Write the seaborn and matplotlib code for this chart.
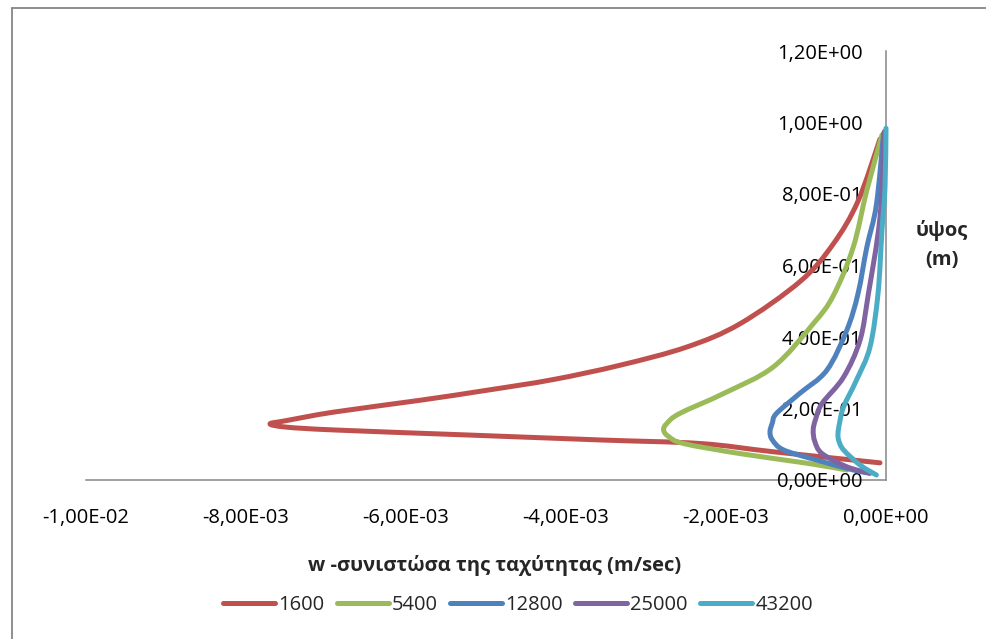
import numpy as np
import pandas as pd
import matplotlib
matplotlib.use("Agg")
import matplotlib.pyplot as plt
from matplotlib.lines import Line2D
from matplotlib.path import Path
from matplotlib.patches import PathPatch
from matplotlib.ticker import FuncFormatter
import seaborn as sns

# Vertical velocity profiles w(z) for different times (s)
series_names = ["1600", "5400", "12800", "25000", "43200"]

w_1600 = [-0.000075, -0.00141, -0.00232, -0.00357, -0.00524, -0.0069, -0.0075, -0.0077,
          -0.0075, -0.0069, -0.005825, -0.00499, -0.00416, -0.003325, -0.00249, -0.001825,
          -0.00107, -0.00066, -0.00035, -0.000075]
z_1600 = [0.048, 0.079, 0.102, 0.112, 0.126, 0.140, 0.148, 0.157,
          0.166, 0.190, 0.223, 0.251, 0.281, 0.321, 0.372, 0.437,
          0.556, 0.660, 0.780, 0.954]

w_5400 = [-0.00049, -0.00099, -0.00183, -0.00253, -0.00272, -0.00278, -0.00274, -0.00258,
          -0.00203, -0.00141, -0.00091, -0.00066, -0.00041, -0.00024, -0.00005]
z_5400 = [0.028, 0.047, 0.074, 0.102, 0.122, 0.140, 0.158, 0.186,
          0.242, 0.316, 0.437, 0.515, 0.651, 0.810, 0.965]

w_12800 = [-0.0002, -0.00041, -0.00087, -0.00128, -0.00142, -0.00145, -0.00142, -0.00137,
           -0.00108, -0.00074, -0.00049, -0.00035, -0.00024, -0.00012, -0.00003]
z_12800 = [0.019, 0.028, 0.056, 0.084, 0.112, 0.135, 0.160, 0.186,
           0.242, 0.307, 0.419, 0.521, 0.651, 0.770, 0.970]

w_25000 = [-0.0002, -0.00049, -0.0008, -0.00089, -0.00091, -0.00088, -0.0008, -0.00053,
           -0.000325, -0.00022, -0.000075, -0.00002]
z_25000 = [0.019, 0.037, 0.074, 0.108, 0.140, 0.170, 0.214, 0.288,
           0.391, 0.521, 0.735, 0.975]

w_43200 = [-0.00012, -0.000325, -0.00053, -0.00059, -0.00060, -0.00058, -0.00053, -0.00037,
           -0.0002, -0.0001, -0.00005, -0.0000125, 0.0]
z_43200 = [0.014, 0.042, 0.084, 0.110, 0.130, 0.160, 0.205, 0.279,
           0.372, 0.521, 0.700, 0.819, 0.984]

colors = ["#C0504D", "#9BBB59", "#4F81BD", "#8064A2", "#4BACC6"]

x_ticks = [-0.010, -0.008, -0.006, -0.004, -0.002, 0.0]
y_ticks = [0.0, 0.2, 0.4, 0.6, 0.8, 1.0, 1.2]

x_title = "w -συνιστώσα της ταχύτητας (m/sec)"
y_title = "ύψος\n(m)"

frames = []
for name, w, z in zip(series_names,
                      [w_1600, w_5400, w_12800, w_25000, w_43200],
                      [z_1600, z_5400, z_12800, z_25000, z_43200]):
    frames.append(pd.DataFrame({"w": w, "z": z, "t": name}))
df = pd.concat(frames, ignore_index=True)

sns.set_style("white")
plt.rcParams["font.family"] = ["Open Sans", "Noto Sans", "DejaVu Sans"]

W, H = 986, 639
LW = 3.6
fig = plt.figure(figsize=(W / 100, H / 100), dpi=100)
ax = fig.add_axes([86 / W, 1 - 480 / H, 800 / W, 429 / H])

sns.lineplot(data=df, x="w", y="z", hue="t", hue_order=series_names,
             palette=colors, sort=False, estimator=None, units="t",
             linewidth=LW, ax=ax, legend=False)


def smooth_path(xy):
    """Smoothed-line rendering: cubic Bezier pieces (Catmull-Rom tangents) through the points."""
    n = len(xy)
    verts = [xy[0]]
    codes = [Path.MOVETO]
    for i in range(n - 1):
        p0 = xy[i - 1] if i > 0 else xy[i]
        p1, p2 = xy[i], xy[i + 1]
        p3 = xy[i + 2] if i + 2 < n else xy[i + 1]
        verts += [p1 + (p2 - p0) / 6.0, p2 - (p3 - p1) / 6.0, p2]
        codes += [Path.CURVE4] * 3
    return Path(verts, codes)


# replace the straight polylines with smoothed curves through the same points
for ln in list(ax.lines):
    xy = np.asarray(ln.get_xydata(), dtype=float)
    patch = PathPatch(smooth_path(xy), facecolor="none", edgecolor=ln.get_color(),
                      linewidth=LW, capstyle="round", joinstyle="round",
                      clip_on=False, zorder=ln.get_zorder())
    ax.add_patch(patch)
    ln.remove()

ax.set_xlim(-0.010, 0.0)
ax.set_ylim(0.0, 1.2)
ax.set_xticks(x_ticks)
ax.set_yticks(y_ticks)

fmt = FuncFormatter(lambda v, pos: f"{v:.2E}".replace(".", ",").replace("-0,00E+00", "0,00E+00"))
ax.xaxis.set_major_formatter(fmt)
ax.yaxis.set_major_formatter(fmt)

ax.set_xlabel("")
ax.set_ylabel("")
ax.set_facecolor("white")

# y axis sits at w = 0 on the right edge, x axis at z = 0
for side in ["top", "right"]:
    ax.spines[side].set_visible(False)
ax.spines["left"].set_position(("data", 0.0))
for side in ["left", "bottom"]:
    ax.spines[side].set_color("#868686")
    ax.spines[side].set_linewidth(1.1)
    ax.spines[side].set_zorder(0.5)

ax.tick_params(axis="x", length=0, pad=20, labelsize=14.5, labelcolor="black")
ax.tick_params(axis="y", length=0, pad=17, labelsize=14.5, labelcolor="black")

fig.text(942 / W, 1 - 245 / H, y_title, ha="center", va="center",
         fontsize=14.5, fontweight="bold", linespacing=1.6)
fig.text(495 / W, 1 - 566 / H, x_title, ha="center", va="center",
         fontsize=14.5, fontweight="bold")

handles = [Line2D([], [], color=c, linewidth=LW, solid_capstyle="round") for c in colors]
fig.legend(handles, series_names, loc="center", bbox_to_anchor=(518 / W, 1 - 605 / H),
           ncol=5, frameon=False, fontsize=14.5, handlelength=2.6,
           handletextpad=0.15, columnspacing=0.6, borderaxespad=0)

# chart area frame (left and top edges)
fig.add_artist(Line2D([11.5 / W, 11.5 / W], [0, 1 - 7.5 / H], transform=fig.transFigure,
                      color="#868686", linewidth=1.3))
fig.add_artist(Line2D([11.5 / W, 1], [1 - 7.5 / H, 1 - 7.5 / H], transform=fig.transFigure,
                      color="#868686", linewidth=1.3))

fig.savefig("out.png", dpi=100, facecolor="white")
